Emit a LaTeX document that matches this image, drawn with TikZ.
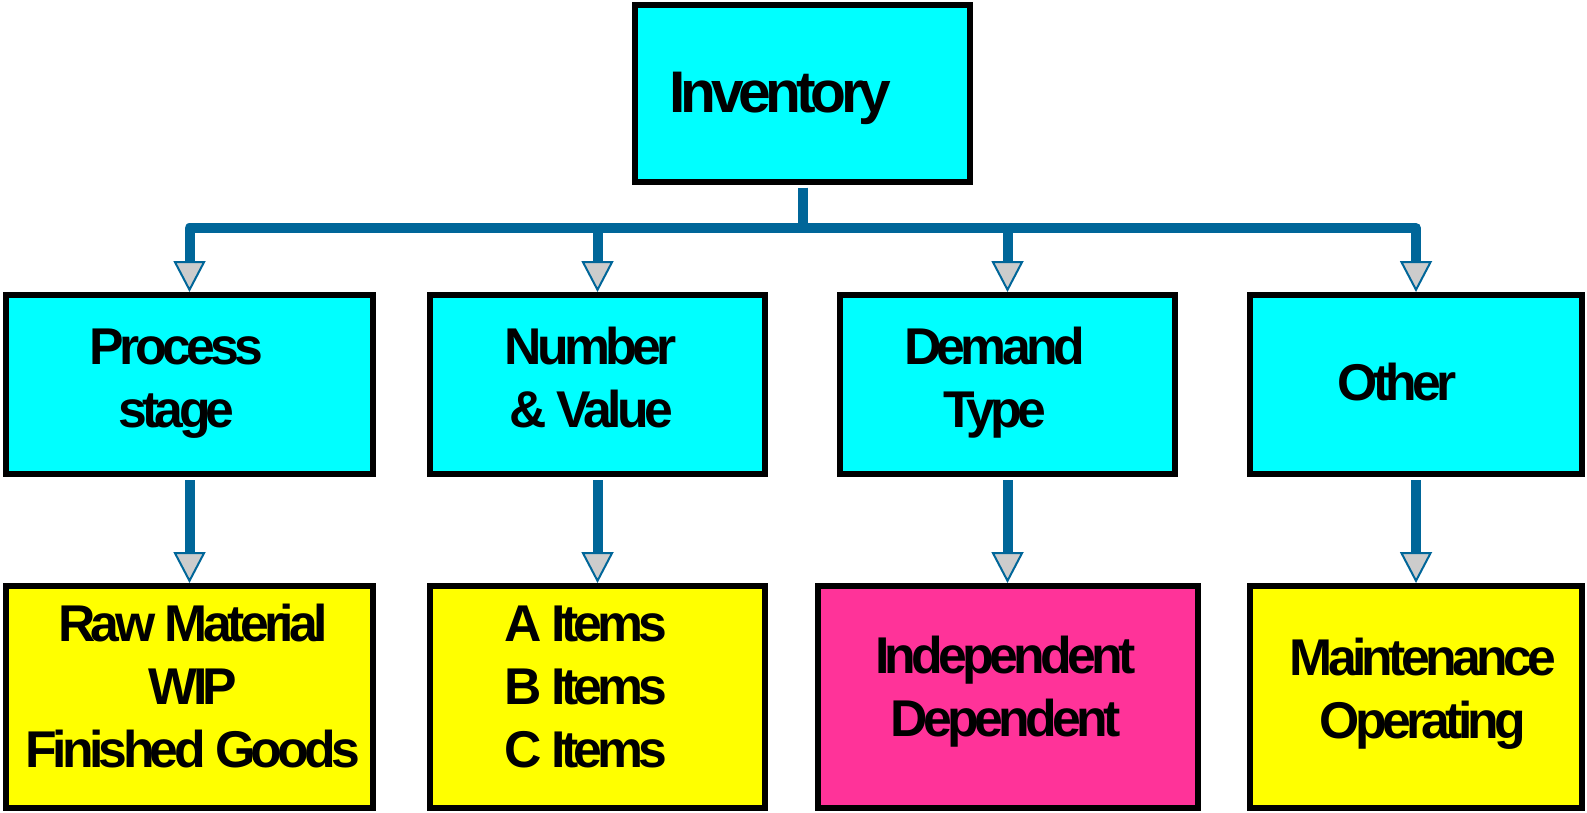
\documentclass[tikz,border=0pt]{standalone}
\usepackage{fontspec}
\setmainfont{Liberation Sans}[LetterSpace=-9]
\usetikzlibrary{arrows.meta}
\definecolor{conn}{RGB}{0,102,153}
\definecolor{arrgray}{RGB}{204,204,204}
\definecolor{boxcyan}{RGB}{0,255,255}
\definecolor{boxyellow}{RGB}{255,255,0}
\definecolor{boxpink}{RGB}{255,51,153}
\newcommand{\blk}[3][0pt]{\raisebox{#1}[\height][\depth]{\begin{tabular}{@{}c@{}}#3\end{tabular}}\hspace*{#2}}
\tikzset{
  box/.style={draw=black, line width=6pt, inner sep=0pt,
    font=\bfseries\fontsize{51.7}{63}\selectfont},
  cbox/.style={box, fill=boxcyan, minimum height=179pt},
  ybox/.style={box, fill=boxyellow, minimum height=222pt},
  pbox/.style={box, fill=boxpink, minimum height=222pt},
  arr/.style={draw=conn, line width=10pt, line join=round,
    -{Triangle[width=32pt,length=31pt,line width=2pt,fill=arrgray]}},
}
\begin{document}
\begin{tikzpicture}[x=1pt,y=-1pt]
\useasboundingbox (0,0) rectangle (1587,813);
% top
\node[cbox, minimum width=335pt, minimum height=177pt] (inv) at (802.5,93.5)
  {\fontsize{58.7}{70}\selectfont\blk[-5.5pt]{44pt}{Inventory}};
% level 2
\node[cbox, minimum width=367pt] (ps) at (189.5,384.5) {\blk[1.5pt]{26pt}{Process\\stage}};
\node[cbox, minimum width=335pt] (nv) at (597.5,384.5) {\blk[1.5pt]{13pt}{Number\\\& Value}};
\node[cbox, minimum width=335pt] (dt) at (1007.5,384.5) {\blk[1.5pt]{26pt}{Demand\\Type}};
\node[cbox, minimum width=332pt] (ot) at (1416,384.5) {\blk[-3pt]{38pt}{Other}};
% level 3
\node[ybox, minimum width=367pt] (rm) at (189.5,697) {\blk[5.5pt]{-7pt}{Raw Material\\WIP\\Finished Goods}};
\node[ybox, minimum width=335pt] (ai) at (597.5,697) {\blk[5.5pt]{23pt}{A Items\\B Items\\C Items}};
\node[pbox, minimum width=380pt] (id) at (1008,697) {\blk[5pt]{5pt}{Independent\\Dependent}};
\node[ybox, minimum width=332pt] (mo) at (1416,697) {\blk[3pt]{-14pt}{Maintenance\\Operating}};
% connectors
\coordinate (bus) at (802.5,228);
\foreach \n in {ps,nv,dt,ot}
  \draw[arr] ([yshift=-3pt]inv.south) -- (inv.south |- bus) -| (\n.north);
\draw[arr] ([yshift=-3pt]ps.south) -- (ps.south |- rm.north);
\draw[arr] ([yshift=-3pt]nv.south) -- (nv.south |- ai.north);
\draw[arr] ([yshift=-3pt]dt.south) -- (dt.south |- id.north);
\draw[arr] ([yshift=-3pt]ot.south) -- (ot.south |- mo.north);
\end{tikzpicture}
\end{document}
